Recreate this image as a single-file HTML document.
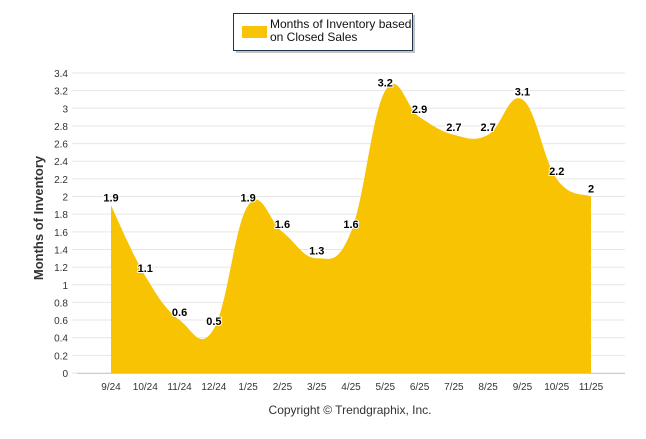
<!DOCTYPE html>
<html><head><meta charset="utf-8"><style>
body{margin:0;background:#fff;font-family:"Liberation Sans",sans-serif}
svg text{font-family:"Liberation Sans",sans-serif}
</style></head><body>
<svg width="646" height="434" viewBox="0 0 646 434">
<g>
<rect x="236" y="15" width="179" height="38" fill="#888" opacity="0.5"/>
<rect x="233.5" y="13.5" width="179" height="37" fill="#fff" stroke="#1f3350" stroke-width="1"/>
<rect x="242" y="26" width="25" height="12" fill="#f8c302"/>
<text x="270" y="28" font-size="12" fill="#111">Months of Inventory based</text>
<text x="270" y="41" font-size="12" fill="#111">on Closed Sales</text>
</g>
<g id="grid"></g>
<path id="area" fill="#f8c302"/>
<g id="labels"></g>
<text transform="translate(43,218) rotate(-90)" text-anchor="middle" font-size="13" font-weight="bold" fill="#333">Months of Inventory</text>
<text x="350" y="414" text-anchor="middle" font-size="12" fill="#333">Copyright © Trendgraphix, Inc.</text>
</svg>
<script>
const categories=["9/24","10/24","11/24","12/24","1/25","2/25","3/25","4/25","5/25","6/25","7/25","8/25","9/25","10/25","11/25"];
const values=[1.9,1.1,0.6,0.5,1.9,1.6,1.3,1.6,3.2,2.9,2.7,2.7,3.1,2.2,2];
const yTicks=[0,0.2,0.4,0.6,0.8,1,1.2,1.4,1.6,1.8,2,2.2,2.4,2.6,2.8,3,3.2,3.4];
const NS="http://www.w3.org/2000/svg";
const x0=77,x1=625,y0=373,y1=73,ymax=3.4;
const firstX=111,lastX=591;
function xs(i){return firstX+i*(lastX-firstX)/(categories.length-1);}
function ys(v){return y0-(v/ymax)*(y0-y1);}
function mk(t,a,p){const e=document.createElementNS(NS,t);for(const k in a)e.setAttribute(k,a[k]);p.appendChild(e);return e;}
const g=document.getElementById('grid');
yTicks.forEach(v=>{
 const l=mk('line',{x1:72,x2:x1,y1:ys(v),y2:ys(v),stroke:'#e6e6e6'},g);
 
 
 const t=mk('text',{x:68,y:ys(v)+4,'text-anchor':'end','font-size':'10',fill:'#333'},g);
 t.textContent=v;
 
 
});
mk('line',{x1:x0,x2:x1,y1:y0+0.5,y2:y0+0.5,stroke:'#ccc'},g);
categories.forEach((c,i)=>{
 const t=mk('text',{x:xs(i),y:390,'text-anchor':'middle','font-size':'10',fill:'#333'},g);
 t.textContent=c;
 
 
});
const pts=values.map((v,i)=>[xs(i),ys(v)]);
let d=`M${pts[0][0]},${y0} L${pts[0][0]},${pts[0][1]}`;
for(let i=0;i<pts.length-1;i++){
 const p0=pts[Math.max(0,i-1)],p1=pts[i],p2=pts[i+1],p3=pts[Math.min(pts.length-1,i+2)];
 const k=0.2;
 const c1=[p1[0]+(p2[0]-p0[0])*k,p1[1]+(p2[1]-p0[1])*k];
 const c2=[p2[0]-(p3[0]-p1[0])*k,p2[1]-(p3[1]-p1[1])*k];
 d+=` C${c1[0]},${c1[1]} ${c2[0]},${c2[1]} ${p2[0]},${p2[1]}`;
}
d+=` L${pts[pts.length-1][0]},${y0} Z`;
document.getElementById('area').setAttribute('d',d);
const lg=document.getElementById('labels');
values.forEach((v,i)=>{
 const t=mk('text',{x:xs(i),y:ys(v)-4,'text-anchor':'middle','font-size':'11','font-weight':'bold',fill:'#000',stroke:'#fff','stroke-width':'2','paint-order':'stroke'},lg);
 t.textContent=v;
 
 
});
</script>
</body></html>
